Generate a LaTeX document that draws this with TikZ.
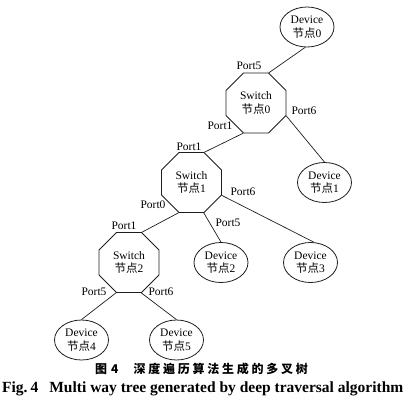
\documentclass[tikz,border=0pt]{standalone}
\usepackage{fontspec}
\setmainfont{Liberation Serif}
\newfontfamily\cjk{Noto Sans CJK SC}
\newfontfamily\cjkcap[LetterSpace=23]{Noto Sans CJK SC}
\usetikzlibrary{positioning, shapes.geometric}
\definecolor{mylinegray}{RGB}{30, 30, 30}

\begin{document}
\begin{tikzpicture}[x=1pt, y=1pt, font=\fontsize{11.5}{13.5}\selectfont,
  devbox/.style={ellipse, draw=mylinegray, line width=0.8pt, minimum width=54pt,
    minimum height=40pt, inner sep=0pt, align=center},
  swbox/.style={regular polygon, regular polygon sides=8, draw=mylinegray,
    line width=0.8pt, minimum size=65pt, inner sep=0pt, align=center},
  link/.style={draw=mylinegray, line width=0.7pt},
  port/.style={inner sep=0pt}]
  \useasboundingbox (0,0) rectangle (410,-405);
  % Switches
  \node[swbox] (sw0) at (256,-103) {Switch\\{\cjk 节点}0};
  \node[swbox] (sw1) at (191.5,-182.5) {Switch\\{\cjk 节点}1};
  \node[swbox] (sw2) at (129,-262.5) {Switch\\{\cjk 节点}2};
  % Devices
  \node[devbox] (dev0) at (307,-27) {Device\\{\cjk 节点}0};
  \node[devbox] (dev1) at (324.5,-182.5) {Device\\{\cjk 节点}1};
  \node[devbox] (dev2) at (221,-262.5) {Device\\{\cjk 节点}2};
  \node[devbox] (dev3) at (310.5,-262.5) {Device\\{\cjk 节点}3};
  \node[devbox] (dev4) at (81.5,-340) {Device\\{\cjk 节点}4};
  \node[devbox] (dev5) at (176.5,-340) {Device\\{\cjk 节点}5};
  % Links
  \draw[link] (dev0.265) -- (sw0.67.5);
  \draw[link] (sw0.337.5) -- (dev1.north);
  \draw[link] (sw0.247.5) -- (sw1.67.5);
  \draw[link] (sw1.247.5) -- (sw2.67.5);
  \draw[link] (sw1.292.5) -- (dev2.north);
  \draw[link] (sw1.337.5) -- (dev3.80);
  \draw[link] (sw2.247.5) -- (dev4.north);
  \draw[link] (sw2.292.5) -- (dev5.north);
  % Port labels
  \node[port] (p05) at (249,-66) {Port5};
  \node[port] (p06) at (304,-111) {Port6};
  \node[port] (p01) at (220,-126) {Port1};
  \node[port] (p11) at (189,-147) {Port1};
  \node[port] (p16) at (243,-192) {Port6};
  \node[port] (p10) at (153,-205) {Port0};
  \node[port] (p15) at (228,-223) {Port5};
  \node[port] (p21) at (124,-226) {Port1};
  \node[port] (p25) at (94,-292) {Port5};
  \node[port] (p26) at (161,-292) {Port6};
  % Caption
  \node[anchor=west, inner sep=0pt, font=\fontsize{12}{14}\bfseries\cjkcap] (capzh) at (95,-369)
    {图\hspace{4pt}4\hspace{15pt}深度遍历算法生成的多叉树};
  \node[anchor=west, inner sep=0pt, font=\fontsize{15.5}{17}\selectfont\bfseries] (capen) at (2,-389)
    {Fig.\hspace{3pt}4\hspace{11pt}Multi way tree generated by deep traversal algorithm};
\end{tikzpicture}
\end{document}
